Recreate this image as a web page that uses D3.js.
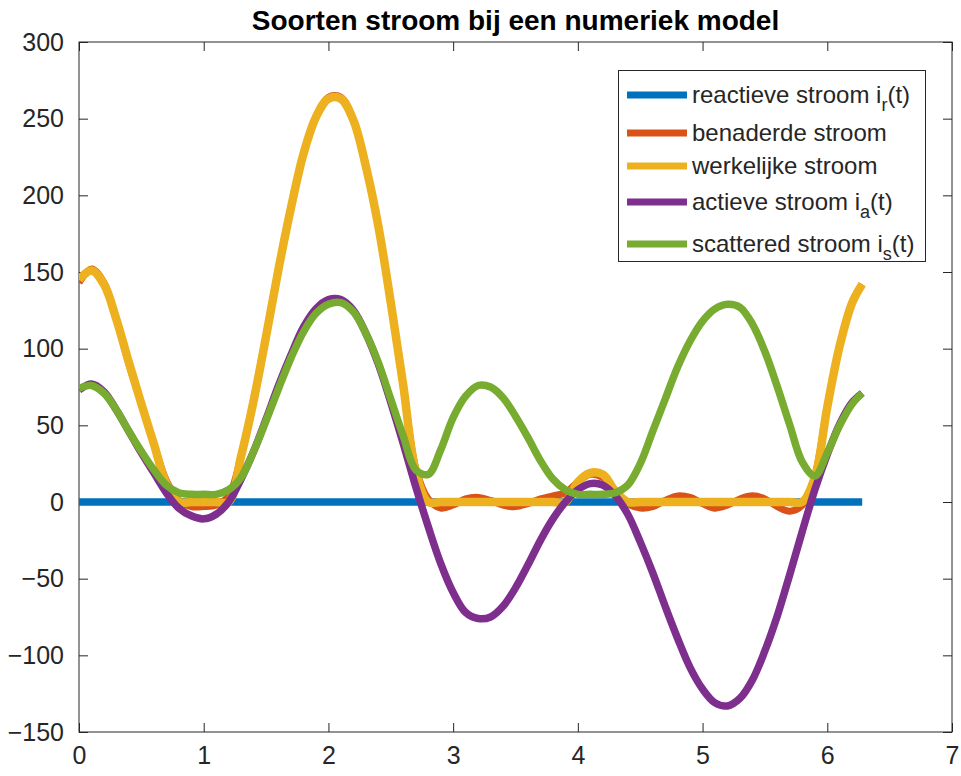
<!DOCTYPE html>
<html>
<head>
<meta charset="utf-8">
<script src="https://cdn.jsdelivr.net/npm/d3@7"></script>
<style>
  body { margin: 0; background: #fff; }
  svg { font-family: "Liberation Sans", Arial, Helvetica, sans-serif; }
</style>
</head>
<body>
<div id="chart"></div>
<script>
// time axis (0 .. 2*pi)
const tValues = [0,0.1,0.2,0.3,0.4,0.5,0.6,0.7,0.8,0.9,
  1.0,1.1,1.2,1.3,1.4,1.5,1.6,1.7,1.8,1.9,
  2.0,2.1,2.2,2.3,2.4,2.5,2.6,2.7,2.8,2.9,
  3.0,3.1,3.2,3.3,3.4,3.5,3.6,3.7,3.8,3.9,
  4.0,4.1,4.2,4.3,4.4,4.5,4.6,4.7,4.8,4.9,
  5.0,5.1,5.2,5.3,5.4,5.5,5.6,5.7,5.8,5.9,
  6.0,6.1,6.2,6.28];

const reactiveT = [0, 6.28];
const reactive = [0, 0];

const approx = [143,152,143,119,90,64,38,14,1,-3,
  -3,-2,4,30,66,108,152,192,227,251,
  264,264,249,219,180,130,76,22,2,-4,
  -2,2,3,1,-2,-3,-1,2,4,6,
  13,18,16,7,-1,-4,-3,1,4,3,
  -1,-4,-2,2,4,2,-3,-6,-2,17,
  62,102,130,142];

const actual = [145,151,142,119,91,64,38,12,0,0,
  0,0,0,30,66,108,152,192,227,251,
  263,263,249,219,180,130,76,20,0,0,
  0,0,0,0,0,0,0,0,0,0,
  13,19,18,7,0,0,0,0,0,0,
  0,0,0,0,0,0,0,0,0,16,
  62,102,130,142];

const active = [73,77,72,60,46,32,19,6,-4,-9,
  -11,-8,0,15,33,54,76,96,114,126,
  132,132,125,110,90,65,38,10,-16,-40,
  -59,-72,-76,-75,-68,-56,-41,-25,-11,0,
  8,12,11,4,-8,-26,-46,-68,-89,-108,
  -122,-131,-133,-128,-116,-97,-74,-47,-19,8,
  31,51,65,71];

const scattered = [74,76,71,60,46,33,21,11,6,5,
  5,5,8,16,33,53,74,94,111,123,
  129,130,124,110,91,67,43,21,18,34,
  55,69,76,75,68,56,42,27,15,8,
  5,5,5,6,11,25,46,67,88,105,
  118,126,129,127,116,98,75,50,26,17,
  32,50,64,71];

const xTicks = [0,1,2,3,4,5,6,7];
const yTicks = [-150,-100,-50,0,50,100,150,200,250,300];

const legendLabels = ['reactieve stroom i', 'benaderde stroom', 'werkelijke stroom', 'actieve stroom i', 'scattered stroom i'];
const legendSubs = ['r', '', '', 'a', 's'];

const W = 961, H = 776;
const plotLeft = 79, plotRight = 952, plotTop = 42, plotBottom = 732;
const axisColor = '#262626';
const colors = ['#0072BD', '#D95319', '#EDB120', '#7E2F8E', '#77AC30'];

const svg = d3.select('#chart').append('svg')
  .attr('width', W)
  .attr('height', H);

svg.append('rect').attr('width', W).attr('height', H).attr('fill', '#fff');

const x = d3.scaleLinear().domain([0, 7]).range([plotLeft, plotRight]);
const y = d3.scaleLinear().domain([-150, 300]).range([plotBottom, plotTop]);

// axes (ticks point inwards, like matlab)
const gx = svg.append('g')
  .attr('transform', 'translate(0,' + plotBottom + ')')
  .call(d3.axisBottom(x).tickValues(xTicks).tickFormat(d3.format('d'))
    .tickSizeInner(-9).tickSizeOuter(0).tickPadding(14));
const gy = svg.append('g')
  .attr('transform', 'translate(' + plotLeft + ',0)')
  .call(d3.axisLeft(y).tickValues(yTicks).tickFormat(d3.format('d'))
    .tickSizeInner(-9).tickSizeOuter(0).tickPadding(15));
const gxTop = svg.append('g')
  .attr('transform', 'translate(0,' + plotTop + ')')
  .call(d3.axisTop(x).tickValues(xTicks).tickSizeInner(-9).tickSizeOuter(0).tickFormat(''));
const gyRight = svg.append('g')
  .attr('transform', 'translate(' + plotRight + ',0)')
  .call(d3.axisRight(y).tickValues(yTicks).tickSizeInner(-9).tickSizeOuter(0).tickFormat(''));

[gx, gy, gxTop, gyRight].forEach(g => {
  g.select('.domain').remove();
  g.selectAll('line').attr('stroke', axisColor);
  g.selectAll('text')
    .attr('fill', axisColor)
    .style('font-size', '25px')
    .style('font-family', '"Liberation Sans", Arial, sans-serif');
});

svg.append('rect')
  .attr('x', plotLeft).attr('y', plotTop)
  .attr('width', plotRight - plotLeft).attr('height', plotBottom - plotTop)
  .attr('fill', 'none')
  .attr('stroke', axisColor)
  .attr('stroke-width', 1);

svg.append('defs').append('clipPath').attr('id', 'plotclip')
  .append('rect')
  .attr('x', plotLeft).attr('y', plotTop)
  .attr('width', plotRight - plotLeft).attr('height', plotBottom - plotTop);

const line = d3.line()
  .x(d => x(d[0]))
  .y(d => y(d[1]))
  .curve(d3.curveCatmullRom.alpha(0.5));

const seriesList = [
  { t: reactiveT, v: reactive, w: 7.5 },
  { t: tValues, v: approx, w: 7 },
  { t: tValues, v: actual, w: 8.5 },
  { t: tValues, v: active, w: 7.5 },
  { t: tValues, v: scattered, w: 7.5 }
];

const plot = svg.append('g').attr('clip-path', 'url(#plotclip)');
seriesList.forEach((s, i) => {
  plot.append('path')
    .datum(s.t.map((t, j) => [t, s.v[j]]))
    .attr('fill', 'none')
    .attr('stroke', colors[i])
    .attr('stroke-width', s.w)
    .attr('stroke-linejoin', 'round')
    .attr('d', line);
});

// title
svg.append('text')
  .attr('x', (plotLeft + plotRight) / 2)
  .attr('y', 30)
  .attr('text-anchor', 'middle')
  .attr('fill', '#000')
  .style('font-size', '28px')
  .style('font-weight', 'bold')
  .text('Soorten stroom bij een numeriek model');

// legend
const legendRows = [103, 141, 174, 210, 252];
const legend = svg.append('g');
legend.append('rect')
  .attr('x', 618.5).attr('y', 70.5)
  .attr('width', 307).attr('height', 191)
  .attr('fill', '#fff')
  .attr('stroke', axisColor)
  .attr('stroke-width', 1);

legendLabels.forEach((label, i) => {
  const by = legendRows[i];
  legend.append('line')
    .attr('x1', 627).attr('x2', 687)
    .attr('y1', by - 8).attr('y2', by - 8)
    .attr('stroke', colors[i])
    .attr('stroke-width', 7);
  const txt = legend.append('text')
    .attr('x', 692)
    .attr('y', by)
    .attr('fill', axisColor)
    .style('font-size', '24px');
  txt.append('tspan').text(label);
  if (legendSubs[i]) {
    txt.append('tspan').attr('dy', 8).style('font-size', '18px').text(legendSubs[i]);
    txt.append('tspan').attr('dy', -8).text('(t)');
  }
});
</script>
</body>
</html>
